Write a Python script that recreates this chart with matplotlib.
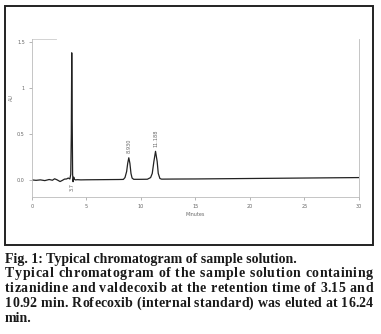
import matplotlib
matplotlib.use("Agg")
import matplotlib.pyplot as plt
from matplotlib.patches import Rectangle

# ---- data ----
time_min = [0.0, 0.4, 0.8, 1.2, 1.6, 1.9, 2.1, 2.3, 2.6, 2.8, 3.0, 3.2, 3.35, 3.5, 3.58,
            3.63, 3.67, 3.71, 3.75, 3.79, 3.85, 3.92, 4.0, 4.2, 4.5, 5.0, 6.0, 7.0, 8.0,
            8.4, 8.55, 8.7, 8.8, 8.9, 9.0, 9.1, 9.2, 9.35, 10.0, 10.6, 10.9, 11.05, 11.2,
            11.35, 11.5, 11.6, 11.75, 11.9, 13.0, 15.0, 20.0, 25.0, 30.0]
signal_au = [0.0, -0.005, 0.0, -0.008, 0.004, -0.004, 0.012, 0.002, -0.018, -0.006, 0.008,
             0.01, 0.02, 0.01, 0.06, 0.5, 1.38, 0.7, 0.06, -0.02, 0.03, 0.005, 0.0, 0.002,
             0.0, 0.001, 0.002, 0.003, 0.004, 0.005, 0.025, 0.09, 0.18, 0.24, 0.18, 0.07,
             0.02, 0.006, 0.006, 0.007, 0.025, 0.07, 0.2, 0.31, 0.2, 0.07, 0.015, 0.008,
             0.009, 0.01, 0.015, 0.02, 0.025]

peak_times = [3.7, 8.9, 11.35]
peak_tops = [-0.04, 0.24, 0.31]
peak_labels = ["3.7", "8.930", "11.188"]

x_ticks = [0, 5, 10, 15, 20, 25, 30]
x_tick_labels = ["0", "5", "10", "15", "20", "25", "30"]
y_ticks = [0.0, 0.5, 1.0, 1.5]
y_tick_labels = ["0.0", "0.5", "1", "1.5"]

caption_title = "Fig. 1: Typical chromatogram of sample solution."
caption_lines = [
    "Typical chromatogram of the sample solution containing",
    "tizanidine and valdecoxib at the retention time of 3.15 and",
    "10.92 min. Rofecoxib (internal standard) was eluted at 16.24",
]
caption_last = "min."

W, H = 381, 334
fig = plt.figure(figsize=(W / 100, H / 100), dpi=100)
fig.patch.set_facecolor("white")

# frame box
fig.add_artist(Rectangle((5 / W, 1 - 245 / H), 368 / W, 239 / H, transform=fig.transFigure,
                         fill=False, edgecolor="#222222", linewidth=1.4))

ax = fig.add_axes([31.7 / W, 1 - 197 / H, (359 - 31.7) / W, (197 - 39) / H])
ax.plot(time_min, signal_au, color="#222222", linewidth=0.9)
ax.set_xlim(0, 30)
ax.set_ylim(-0.186, 1.53)
ax.set_xticks(x_ticks)
ax.set_xticklabels(x_tick_labels)
ax.set_yticks(y_ticks)
ax.set_yticklabels(y_tick_labels)
ax.tick_params(labelsize=3.5, colors="#999999", labelcolor="#666666", length=2, width=0.5, pad=3)
for s in ["left", "bottom", "right"]:
    ax.spines[s].set_color("#bbbbbb")
    ax.spines[s].set_linewidth(0.6)
ax.spines["top"].set_visible(False)
ax.plot([0, 2.2], [1.53, 1.53], color="#cccccc", linewidth=0.6, clip_on=False)
ax.set_xlabel("Minutes", fontsize=3.5, color="#666666", labelpad=2)
ax.set_ylabel("AU", fontsize=3.5, color="#777777")
ax.yaxis.set_label_coords(-0.054, 0.627)

for t, top, lab in zip(peak_times, peak_tops, peak_labels):
    va = "bottom" if top > 0 else "top"
    off = 0.05 if top > 0 else 0.0
    ax.text(t, top + off, lab, rotation=90, fontsize=3.6, color="#666666",
            ha="center", va=va)

# caption
font = dict(family=["Liberation Serif", "DejaVu Serif"], weight="bold", color="#1a1a1a")
renderer = fig.canvas.get_renderer()
left_px, right_px = 5, 373


def width_of(s, fs):
    t = fig.text(0, 0, s, fontsize=fs, **font)
    w = t.get_window_extent(renderer).width
    t.remove()
    return w


# fit size so first line spans ~292 px
fs = 10
fs = fs * 292 / width_of(caption_title, fs)

baselines = [262.5, 277, 292, 307, 321.5]
fig.text(left_px / W, 1 - baselines[0] / H, caption_title, fontsize=fs,
         va="baseline", ha="left", **font)

space_w = width_of("a a", fs) - width_of("aa", fs)
char_cache = {}


def cw(c):
    if c == " ":
        return space_w
    if c not in char_cache:
        char_cache[c] = width_of(c, fs)
    return char_cache[c]


for line, y in zip(caption_lines, baselines[1:4]):
    widths = [cw(c) for c in line]
    natural = sum(widths)
    extra = (right_px - left_px - natural) / (len(line) - 1)
    x = left_px
    for c, w in zip(line, widths):
        if c != " ":
            fig.text(x / W, 1 - y / H, c, fontsize=fs, va="baseline", ha="left", **font)
        x += w + extra
fig.text(left_px / W, 1 - baselines[4] / H, caption_last, fontsize=fs,
         va="baseline", ha="left", **font)

fig.savefig("out.png", dpi=100, facecolor="white")
